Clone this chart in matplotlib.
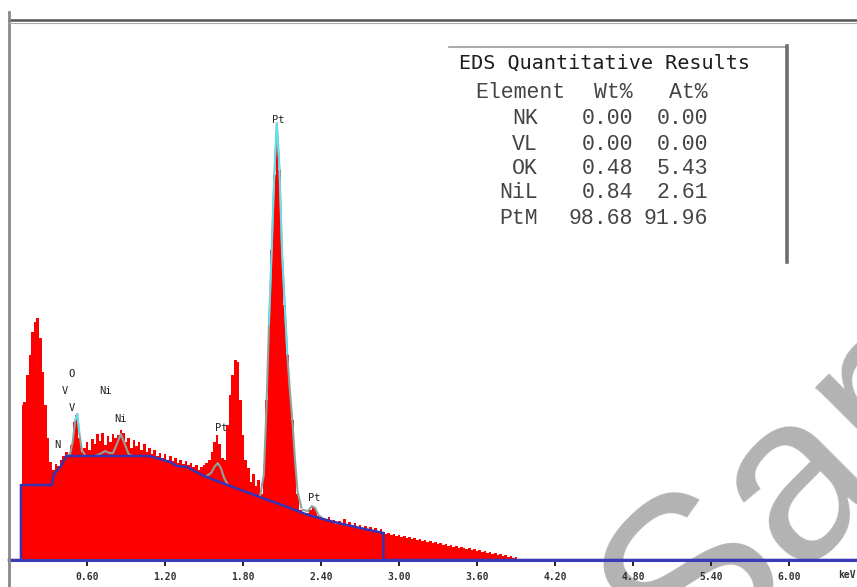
import numpy as np
import matplotlib
matplotlib.use("Agg")
import matplotlib.pyplot as plt
from matplotlib.lines import Line2D

# ---------------- data ----------------
E_START = 0.10          # keV, first channel
E_STEP = 0.02           # keV per channel
counts = [
    155, 158, 185, 205, 228, 238, 242, 222, 188, 155,   # 0.10-0.28
    122, 98, 90, 96, 94, 100, 104, 108, 106, 115,       # 0.30-0.48
    138, 145, 122, 108, 112, 118, 110, 121, 116, 126,   # 0.50-0.68
    119, 127, 115, 124, 118, 126, 122, 125, 130, 127,   # 0.70-0.88
    118, 122, 112, 120, 114, 118, 110, 116, 108, 112,   # 0.90-1.08
    106, 110, 104, 107, 102, 106, 100, 104, 99, 102,    # 1.10-1.28
    97, 100, 96, 99, 95, 97, 93, 95, 90, 93,            # 1.30-1.48
    95, 97, 100, 108, 118, 125, 116, 102, 100, 135,     # 1.50-1.68
    165, 185, 200, 198, 160, 125, 100, 92, 78, 86,      # 1.70-1.88
    74, 80, 66, 95, 160, 240, 310, 385, 435, 390,       # 1.90-2.08
    305, 255, 205, 168, 140, 100, 66, 50, 48, 46,       # 2.10-2.28
    47, 50, 53, 50, 44, 42, 42, 40, 43, 38,             # 2.30-2.48
    40, 36, 39, 37, 41, 35, 38, 34, 37, 33,             # 2.50-2.68
    35, 32, 34, 31, 33, 30, 32, 29, 31, 28,             # 2.70-2.88
    26, 27, 25, 26, 24, 25, 23, 24, 22, 23,             # 2.90-3.08
    21, 22, 20, 21, 19, 20, 18, 19, 17, 18,             # 3.10-3.28
    16, 17, 15, 16, 14, 15, 13, 14, 12, 13,             # 3.30-3.48
    12, 11, 12, 10, 11, 9, 10, 8, 9, 7,                 # 3.50-3.68
    8, 6, 7, 5, 6, 4, 5, 3, 4, 2,                       # 3.70-3.88
    3, 1, 1, 0,                                         # 3.90-3.96
]

bg_energy = [0.0, 0.092, 0.092, 0.33, 0.345, 0.40, 0.44, 1.08, 1.24, 1.29, 1.37,
             1.50, 1.70, 1.95, 2.10, 2.30, 2.50, 2.70, 2.88, 2.88, 6.6]
bg_counts = [0, 0, 75, 75, 86, 94, 104, 104, 98, 94, 93,
             84, 74, 62, 55, 45, 38, 32, 27, 0, 0]

fit_O_e = [0.44, 0.47, 0.49, 0.51, 0.525, 0.54, 0.56, 0.59]
fit_O_c = [104, 106, 118, 140, 146, 128, 110, 104]
fit_Ni_e = [0.66, 0.70, 0.74, 0.77, 0.80, 0.83, 0.86, 0.89, 0.92, 0.95]
fit_Ni_c = [104, 106, 109, 107, 107, 116, 126, 116, 106, 104]
fit_Pt1_e = [1.52, 1.555, 1.58, 1.605, 1.63, 1.655, 1.68]
fit_Pt1_c = [84, 87, 93, 97, 92, 82, 76]
fit_Pt2_e = [1.93, 1.96, 1.98, 2.00, 2.02, 2.04, 2.06, 2.08, 2.10, 2.12, 2.14,
             2.16, 2.18, 2.20, 2.22, 2.25]
fit_Pt2_c = [63, 85, 150, 236, 306, 382, 437, 392, 308, 257, 207, 170, 139,
             100, 68, 52]
fit_Pt3_e = [2.26, 2.30, 2.33, 2.355, 2.38, 2.41]
fit_Pt3_c = [50, 49, 54, 52, 45, 42]

peak_labels = ["Pt", "O", "V", "V", "Ni", "Ni", "N", "Pt", "Pt"]
peak_label_e = [2.07, 0.477, 0.43, 0.485, 0.746, 0.86, 0.37, 1.63, 2.35]
peak_label_c = [440, 186, 169, 152, 169, 141, 115, 132, 62]

xtick_values = [0.60, 1.20, 1.80, 2.40, 3.00, 3.60, 4.20, 4.80, 5.40, 6.00]

table_title = "EDS Quantitative Results"
table_header = ["Element", "Wt%", "At%"]
elements = ["NK", "VL", "OK", "NiL", "PtM"]
wt_pct = ["0.00", "0.00", "0.48", "0.84", "98.68"]
at_pct = ["0.00", "0.00", "5.43", "2.61", "91.96"]

# ---------------- figure ----------------
W, H = 857, 587
fig = plt.figure(figsize=(W / 100, H / 100), dpi=100)
fig.patch.set_facecolor("white")

X0, Y0 = 9, 560      # pixel position of (0 keV, 0 counts)
YTOP = 20
ax = fig.add_axes([X0 / W, (H - Y0) / H, (W - X0) / W, (Y0 - YTOP) / H])
ax.set_xlim(0, (W - X0) / 130.0)
ax.set_ylim(0, Y0 - YTOP)
ax.set_facecolor("white")

# ---------------- watermark (under everything else) ----------------
ax.text(686 / W, (H - 683) / H, "Sample", fontsize=170, family="Liberation Sans",
        color="#b3b3b3", rotation=45, rotation_mode="anchor", ha="left",
        va="baseline", zorder=0.5, transform=fig.transFigure, clip_on=False)

energy = E_START + E_STEP * np.arange(len(counts))
ax.fill_between(energy, counts, 0, step="mid", color="#ff0000", lw=0, zorder=2)

# fitted curves
fit_col = "#8da39f"
for fe, fc in [(fit_O_e, fit_O_c), (fit_Ni_e, fit_Ni_c), (fit_Pt1_e, fit_Pt1_c),
               (fit_Pt2_e, fit_Pt2_c), (fit_Pt3_e, fit_Pt3_c)]:
    ax.plot(fe, fc, color=fit_col, lw=1.5, zorder=3, solid_capstyle="round")
# cyan highlight on tall parts of main Pt peak and O peak tip
fe = np.array(fit_Pt2_e); fc = np.array(fit_Pt2_c)
m = fc >= 200
ax.plot(fe[m], fc[m], color="#5fe3f2", lw=1.2, zorder=4)
fe = np.array(fit_O_e); fc = np.array(fit_O_c)
m = fc >= 125
ax.plot(fe[m], fc[m], color="#5fe3f2", lw=1.2, zorder=4)

# background line
ax.plot(bg_energy, bg_counts, color="#3434b4", lw=1.8, zorder=5, clip_on=False)

# peak labels
for lab, le, lc in zip(peak_labels, peak_label_e, peak_label_c):
    ax.text(le, lc, lab, fontsize=7.5, family="DejaVu Sans Mono",
            color="#222222", ha="center", va="center", zorder=6)

# spines / ticks
for s in ["right", "left"]:
    ax.spines[s].set_visible(False)
ax.spines["bottom"].set_color("#3a3ab8")
ax.spines["bottom"].set_linewidth(2.2)
ax.spines["bottom"].set_zorder(5)
ax.spines["top"].set_color("#555555")
ax.spines["top"].set_linewidth(1.8)
ax.set_yticks([])
ax.set_xticks(xtick_values)
ax.set_xticklabels([f"{v:.2f}" for v in xtick_values])
ax.tick_params(axis="x", direction="out", length=4.5, width=1.4, color="#222222",
               pad=4, labelsize=7, labelcolor="#333333")
for t in ax.get_xticklabels():
    t.set_family("DejaVu Sans Mono")
    t.set_fontweight("bold")
ax.text(6.515, -15, "keV", fontsize=7, family="DejaVu Sans Mono",
        fontweight="bold", color="#333333", ha="right", va="center", clip_on=False)

# left frame line
fig.add_artist(Line2D([8.5 / W, 8.5 / W], [0, (H - 12) / H], color="#888888",
                      lw=2.0, transform=fig.transFigure))
# second (lighter) top line
fig.add_artist(Line2D([8.5 / W, 1], [(H - 22.5) / H, (H - 22.5) / H],
                      color="#aaaaaa", lw=0.8, transform=fig.transFigure))

# ---------------- quantitative table ----------------
def fx(px):
    return px / W

def fy(py):
    return (H - py) / H

fig.add_artist(Line2D([fx(449), fx(787)], [fy(47), fy(47)], color="#9a9a9a",
                      lw=1.2, transform=fig.transFigure))
fig.add_artist(Line2D([fx(786.5), fx(786.5)], [fy(46), fy(262)], color="#6e6e6e",
                      lw=2.6, transform=fig.transFigure))
fig.text(fx(459), fy(63), table_title, fontsize=14.5, family="DejaVu Sans Mono",
         color="#1e1e1e", ha="left", va="center")
fig.text(fx(565), fy(92), table_header[0], fontsize=15.5, family="Liberation Mono",
         color="#444444", ha="right", va="center")
fig.text(fx(633), fy(92), table_header[1], fontsize=15.5, family="Liberation Mono",
         color="#444444", ha="right", va="center")
fig.text(fx(708), fy(92), table_header[2], fontsize=15.5, family="Liberation Mono",
         color="#444444", ha="right", va="center")
row_y = [119, 144, 168, 193, 218]
for ry, e, w, a in zip(row_y, elements, wt_pct, at_pct):
    fig.text(fx(538), fy(ry), e, fontsize=15.5, family="Liberation Mono",
             color="#444444", ha="right", va="center")
    fig.text(fx(633), fy(ry), w, fontsize=15.5, family="Liberation Mono",
             color="#444444", ha="right", va="center")
    fig.text(fx(708), fy(ry), a, fontsize=15.5, family="Liberation Mono",
             color="#444444", ha="right", va="center")

fig.savefig("out.png", dpi=100, facecolor="white")
